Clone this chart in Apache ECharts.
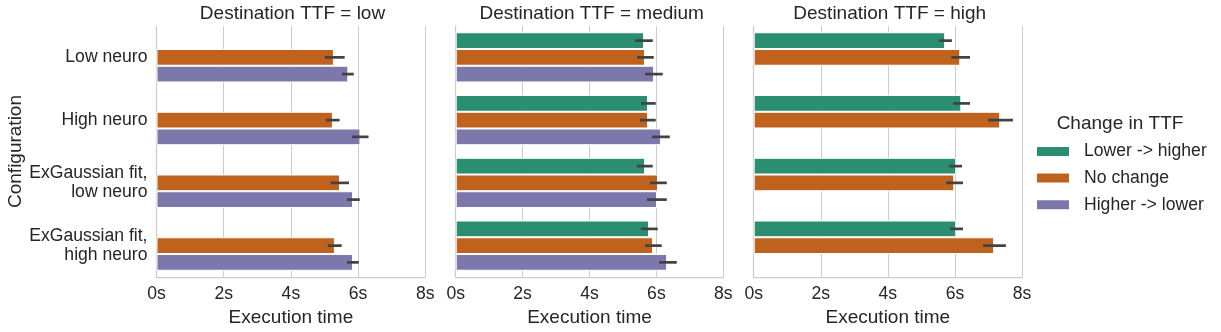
<!DOCTYPE html>
<html>
<head>
<meta charset="utf-8">
<script src="https://cdn.jsdelivr.net/npm/echarts@6/dist/echarts.min.js"></script>
<style>
  html, body { margin: 0; padding: 0; background: #fff; }
  #chart { width: 1221px; height: 332px; }
</style>
</head>
<body>
<div id="chart"></div>
<script>
// categories and hues
const configs = ['Low neuro', 'High neuro', 'ExGaussian fit,\nlow neuro', 'ExGaussian fit,\nhigh neuro']
const hues = ['Lower -> higher', 'No change', 'Higher -> lower']
const panels = ['low', 'medium', 'high']
const xTicks = [0, 2, 4, 6, 8]

// mean execution time (s), null = no data for that hue
const lowGreen = [null, null, null, null]
const lowOrange = [5.28, 5.25, 5.46, 5.31]
const lowPurple = [5.71, 6.07, 5.85, 5.85]
const medGreen = [5.63, 5.75, 5.66, 5.78]
const medOrange = [5.66, 5.75, 6.05, 5.90]
const medPurple = [5.93, 6.14, 6.02, 6.32]
const highGreen = [5.71, 6.19, 6.04, 6.04]
const highOrange = [6.16, 7.35, 5.98, 7.17]
const highPurple = [null, null, null, null]

// confidence intervals [lo, hi]
const lowGreenCI = [null, null, null, null]
const lowOrangeCI = [[5.01, 5.60], [5.04, 5.45], [5.19, 5.73], [5.10, 5.51]]
const lowPurpleCI = [[5.52, 5.87], [5.82, 6.31], [5.67, 6.05], [5.67, 6.02]]
const medGreenCI = [[5.36, 5.89], [5.54, 5.98], [5.42, 5.89], [5.54, 6.04]]
const medOrangeCI = [[5.42, 5.92], [5.51, 5.98], [5.81, 6.31], [5.66, 6.16]]
const medPurpleCI = [[5.66, 6.19], [5.87, 6.40], [5.72, 6.31], [6.08, 6.61]]
const highGreenCI = [[5.53, 5.91], [5.95, 6.45], [5.83, 6.21], [5.86, 6.24]]
const highOrangeCI = [[5.89, 6.45], [6.99, 7.73], [5.74, 6.24], [6.84, 7.52]]
const highPurpleCI = [null, null, null, null]

const panelValues = [
  [lowGreen, lowOrange, lowPurple],
  [medGreen, medOrange, medPurple],
  [highGreen, highOrange, highPurple]
]
const panelCI = [
  [lowGreenCI, lowOrangeCI, lowPurpleCI],
  [medGreenCI, medOrangeCI, medPurpleCI],
  [highGreenCI, highOrangeCI, highPurpleCI]
]

const colors = ['#2b8e70', '#be621d', '#7c78ab']
const textColor = '#262626'
const font = 'Liberation Sans, Arial, sans-serif'

const chart = echarts.init(document.getElementById('chart'))

const gridPos = [
  { left: 156.5, width: 268.8 },
  { left: 455.7, width: 267.6 },
  { left: 753.7, width: 268.3 }
]

const grids = gridPos.map(p => ({ left: p.left, width: p.width, top: 26, height: 251 }))

const xAxes = gridPos.map((p, i) => ({
  type: 'value',
  gridIndex: i,
  min: 0,
  max: 8,
  interval: 2,
  name: 'Execution time',
  nameLocation: 'middle',
  nameGap: 28,
  nameTextStyle: { color: textColor, fontSize: 19, fontFamily: font },
  axisLine: { show: true, lineStyle: { color: '#cccccc', width: 1.25 } },
  axisTick: { show: false },
  axisLabel: { color: textColor, fontSize: 17.6, fontFamily: font, margin: 8, formatter: v => v + 's' },
  splitLine: { show: true, lineStyle: { color: '#cccccc', width: 1 } }
}))

const yAxes = gridPos.map((p, i) => ({
  type: 'category',
  gridIndex: i,
  data: configs,
  inverse: true,
  name: i === 0 ? 'Configuration' : '',
  nameLocation: 'middle',
  nameRotate: 90,
  nameGap: 131,
  nameTextStyle: { color: textColor, fontSize: 19, fontFamily: font },
  axisLine: { show: true, lineStyle: { color: '#cccccc', width: 1.25 } },
  axisTick: { show: false },
  axisLabel: {
    show: i === 0,
    color: textColor,
    fontSize: 17.6,
    fontFamily: font,
    margin: 9,
    lineHeight: 19.4,
    align: 'right'
  },
  splitLine: { show: false }
}))

const series = []
panelValues.forEach((vals, pi) => {
  vals.forEach((arr, hi) => {
    series.push({
      type: 'bar',
      name: hues[hi],
      xAxisIndex: pi,
      yAxisIndex: pi,
      data: arr,
      barGap: '0%',
      barCategoryGap: '20%',
      itemStyle: { color: colors[hi], borderColor: '#ffffff', borderWidth: 1 },
      emphasis: { disabled: true },
      z: 2
    })
  })
  // error bars
  const errData = []
  panelCI[pi].forEach((ciArr, hi) => {
    ciArr.forEach((ci, ci_i) => {
      if (ci) errData.push([ci_i, ci[0], ci[1], hi])
    })
  })
  series.push({
    type: 'custom',
    xAxisIndex: pi,
    yAxisIndex: pi,
    data: errData,
    encode: { x: [1, 2], y: 0 },
    z: 5,
    silent: true,
    renderItem: (params, api) => {
      const cat = api.value(0)
      const p1 = api.coord([api.value(1), cat])
      const p2 = api.coord([api.value(2), cat])
      const band = api.size([0, 1])[1]
      const off = (api.value(3) - 1) * band * 0.8 / 3
      return {
        type: 'line',
        shape: { x1: p1[0], y1: p1[1] + off, x2: p2[0], y2: p2[1] + off },
        style: { stroke: '#424242', lineWidth: 2.7 }
      }
    }
  })
})

const titles = gridPos.map((p, i) => ({
  text: 'Destination TTF = ' + panels[i],
  left: p.left + 136,
  top: 4,
  padding: 0,
  textAlign: 'center',
  textStyle: { color: textColor, fontSize: 19, fontWeight: 'normal', fontFamily: font }
}))
titles.push({
  text: 'Change in TTF',
  left: 1120,
  top: 114,
  padding: 0,
  textAlign: 'center',
  textStyle: { color: textColor, fontSize: 19, fontWeight: 'normal', fontFamily: font }
})

chart.setOption({
  backgroundColor: '#ffffff',
  animation: false,
  title: titles,
  legend: {
    data: hues,
    orient: 'vertical',
    left: 1035,
    top: 141.5,
    padding: 0,
    icon: 'rect',
    itemWidth: 34,
    itemHeight: 11,
    itemGap: 6.6,
    selectedMode: false,
    textStyle: { color: textColor, fontSize: 17.6, fontFamily: font, lineHeight: 20, padding: [0, 0, 0, 9] }
  },
  grid: grids,
  xAxis: xAxes,
  yAxis: yAxes,
  series: series
})
</script>
</body>
</html>
